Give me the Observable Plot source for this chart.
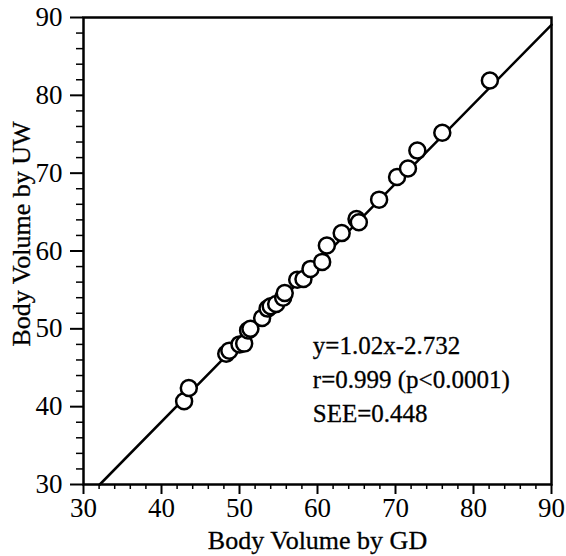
<!DOCTYPE html>
<html>
<head>
<meta charset="utf-8">
<script src="https://cdn.jsdelivr.net/npm/d3@7"></script>
<script src="https://cdn.jsdelivr.net/npm/@observablehq/plot@0.6"></script>
<style>
  html, body { margin: 0; padding: 0; background: #fff; }
  #chart svg { display: block; }
</style>
</head>
<body>
<div id="chart"></div>
<script>
// Body volume by GD (x) vs by UW (y)
const bvGD = [42.9, 43.5, 48.3, 48.7, 50.0, 50.6, 51.1, 51.4, 52.9, 53.6, 54.0, 54.7, 55.6, 55.8, 57.4, 58.2, 59.1, 60.6, 61.2, 63.1, 65.0, 65.3, 67.9, 70.2, 71.6, 72.8, 76.0, 82.1];
const bvUW = [40.7, 42.4, 46.8, 47.2, 48.0, 48.1, 49.8, 50.0, 51.4, 52.6, 52.9, 53.2, 54.0, 54.6, 56.3, 56.4, 57.7, 58.6, 60.7, 62.3, 64.1, 63.7, 66.6, 69.5, 70.6, 72.9, 75.2, 81.9];
const slope = 1.02;
const intercept = -2.732;
const majorTicks = [30, 40, 50, 60, 70, 80, 90];
const minorTicks = [32, 34, 36, 38, 42, 44, 46, 48, 52, 54, 56, 58, 62, 64, 66, 68, 72, 74, 76, 78, 82, 84, 86, 88];
const xTitle = "Body Volume by GD";
const yTitle = "Body Volume by UW";
const annotation = ["y=1.02x-2.732", "r=0.999 (p<0.0001)", "SEE=0.448"];

const points = bvGD.map((x, i) => ({x, y: bvUW[i]}));
const lineX = [(30 - intercept) / slope, 90];
const fitLine = lineX.map(x => ({x, y: slope * x + intercept}));

const plot = Plot.plot({
  width: 566,
  height: 556,
  marginLeft: 83,
  marginRight: 15,
  marginTop: 17,
  marginBottom: 72,
  style: {fontFamily: "'Liberation Serif', 'Times New Roman', serif", fontSize: "27px", color: "#000", background: "#fff"},
  x: {domain: [30, 90]},
  y: {domain: [30, 90]},
  marks: [
    Plot.frame({stroke: "#000", strokeWidth: 2.5}),
    Plot.axisX({ticks: majorTicks, tickSize: 10, tickPadding: 3, tickFormat: d => d, label: null, strokeWidth: 2, fontSize: 27, stroke: "#000"}),
    Plot.axisX({ticks: minorTicks, tickSize: 5, tickFormat: () => "", label: null, strokeWidth: 1.5}),
    Plot.axisY({ticks: majorTicks, tickSize: 13, tickPadding: 8, tickFormat: d => d, label: null, strokeWidth: 2, fontSize: 27}),
    Plot.axisY({ticks: minorTicks, tickSize: 7, tickFormat: () => "", label: null, strokeWidth: 1.5}),
    Plot.line(fitLine, {x: "x", y: "y", stroke: "#000", strokeWidth: 2.5}),
    Plot.dot(points, {x: "x", y: "y", r: 8, fill: "#fff", stroke: "#000", strokeWidth: 2.5}),
    Plot.text([annotation.join("\n")], {x: 59.4, y: 49.9, text: d => d, textAnchor: "start", lineAnchor: "top", lineHeight: 1.36, fontSize: 25, fill: "#000", stroke: "#000", strokeWidth: 0.3}),
    Plot.text([xTitle], {frameAnchor: "bottom", text: d => d, dy: 56, fontSize: 26, lineAnchor: "middle", textAnchor: "middle", fill: "#000", stroke: "#000", strokeWidth: 0.3}),
    Plot.text([yTitle], {frameAnchor: "left", text: d => d, rotate: -90, dx: -62, dy: -17, fontSize: 26, lineAnchor: "middle", textAnchor: "middle", fill: "#000", stroke: "#000", strokeWidth: 0.3})
  ]
});
document.getElementById("chart").appendChild(plot);
</script>
</body>
</html>
